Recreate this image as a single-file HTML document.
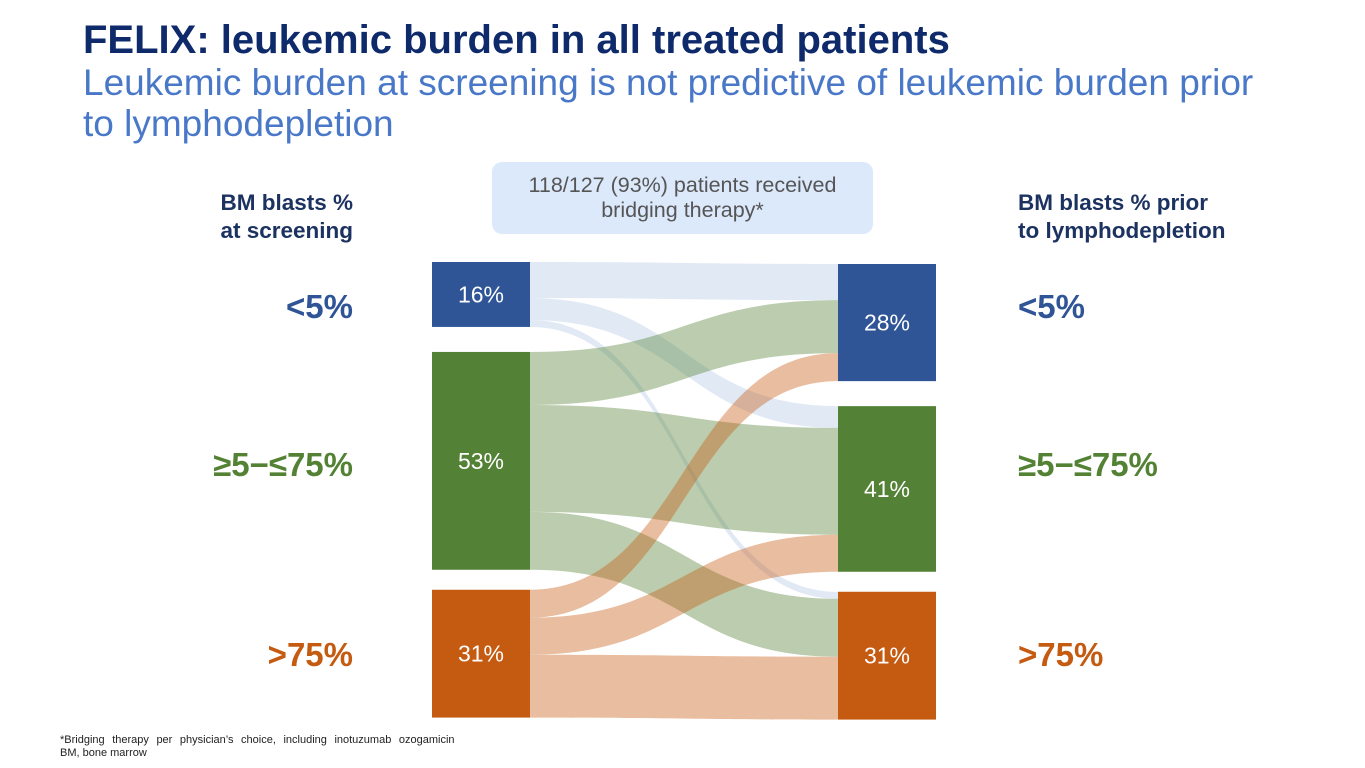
<!DOCTYPE html>
<html><head><meta charset="utf-8"><style>
body{margin:0;width:1365px;height:768px;background:#fff;font-family:"Liberation Sans",sans-serif;position:relative;overflow:hidden}
.a{position:absolute;white-space:nowrap}
</style></head><body>
<div class="a" style="left:83px;top:18px;font-size:40px;font-weight:bold;color:#0e2a6b">FELIX: leukemic burden in all treated patients</div>
<div class="a" style="left:83px;top:62px;font-size:37px;color:#4a78c8;line-height:41px;white-space:normal;width:1200px">Leukemic burden at screening is not predictive of leukemic burden prior to lymphodepletion</div>
<div class="a" style="left:492px;top:162px;width:381px;height:72px;background:#dce9fb;border-radius:10px;color:#555;font-size:21.5px;text-align:center;line-height:25px;padding-top:11px;box-sizing:border-box">118/127 (93%) patients received<br>bridging therapy*</div>
<div class="a" style="right:1012px;top:189px;font-size:22.5px;font-weight:bold;color:#1c3260;text-align:right;line-height:28px">BM blasts %<br>at screening</div>
<div class="a" style="left:1018px;top:189px;font-size:22.5px;font-weight:bold;color:#1c3260;line-height:28px">BM blasts % prior<br>to lymphodepletion</div>
<div class="a" style="right:1012px;top:288px;font-size:33px;font-weight:bold;color:#2f5597">&lt;5%</div>
<div class="a" style="right:1012px;top:446px;font-size:33px;font-weight:bold;color:#548235">≥5−≤75%</div>
<div class="a" style="right:1012px;top:636px;font-size:33px;font-weight:bold;color:#c55a11">&gt;75%</div>
<div class="a" style="left:1018px;top:288px;font-size:33px;font-weight:bold;color:#2f5597">&lt;5%</div>
<div class="a" style="left:1018px;top:446px;font-size:33px;font-weight:bold;color:#548235">≥5−≤75%</div>
<div class="a" style="left:1018px;top:636px;font-size:33px;font-weight:bold;color:#c55a11">&gt;75%</div>
<div class="a" style="left:60px;top:734px;font-size:11px;color:#222;line-height:13px;word-spacing:4.5px">*Bridging therapy per physician’s choice, including inotuzumab ozogamicin<br><span style="word-spacing:0">BM, bone marrow</span></div>
<svg id="sk" class="a" style="left:0;top:0" width="1365" height="768"></svg>
<script>
const categories=["<5%","≥5−≤75%",">75%"];
const leftLabels=["16%","53%","31%"];
const rightLabels=["28%","41%","31%"];
const fromLow=[8.8,5.3,1.7];
const fromMid=[12.9,26.0,14.1];
const fromHigh=[6.8,9.0,15.3];
const flows=[fromLow,fromMid,fromHigh];
const NS="http://www.w3.org/2000/svg";
const svg=document.getElementById('sk');
const k=4.11, gaps=[25,20], lx0=432,lx1=530,rx0=838,rx1=936;
const nodeCol=["#2f5597","#538135","#c55a11"];
const flowCol=["#b4c7e7","#548235","#c55a11"];
const flowOp=[0.4,0.4,0.4];
function tops(sums,top){const t=[];let y=top;sums.forEach((s,i)=>{t.push(y);y+=s*k+(gaps[i]||0);});return t;}
const lSum=flows.map(r=>r.reduce((a,b)=>a+b,0));
const rSum=[0,1,2].map(j=>flows.reduce((a,r)=>a+r[j],0));
const lT=tops(lSum,262), rT=tops(rSum,264);
const lOff=lT.slice(), rOff=rT.slice();
const fg=document.createElementNS(NS,'g');svg.appendChild(fg);
flows.forEach((row,i)=>row.forEach((v,j)=>{
  const h=v*k,y0=lOff[i],y1=rOff[j];lOff[i]+=h;rOff[j]+=h;
  const m=(lx1+rx0)/2;
  const p=document.createElementNS(NS,'path');
  p.setAttribute('d',`M${lx1},${y0}C${m},${y0} ${m},${y1} ${rx0},${y1}L${rx0},${y1+h}C${m},${y1+h} ${m},${y0+h} ${lx1},${y0+h}Z`);
  p.setAttribute('fill',flowCol[i]);p.setAttribute('fill-opacity',flowOp[i]);
  
  
  fg.appendChild(p);
}));
function node(x,y,h,c,lab,name){
  const r=document.createElementNS(NS,'rect');
  r.setAttribute('x',x);r.setAttribute('y',y);r.setAttribute('width',98);r.setAttribute('height',h);r.setAttribute('fill',c);
  
  
  svg.appendChild(r);
  const t=document.createElementNS(NS,'text');
  t.setAttribute('x',x+49);t.setAttribute('y',y+h/2+8);t.setAttribute('text-anchor','middle');
  t.setAttribute('fill','#fff');t.setAttribute('font-size','23');t.setAttribute('font-family','Liberation Sans, sans-serif');
  t.textContent=lab;
  
  
  svg.appendChild(t);
}
lSum.forEach((s,i)=>node(lx0,lT[i],s*k,nodeCol[i],leftLabels[i],'left-node-'+i));
rSum.forEach((s,i)=>node(rx0,rT[i],s*k,nodeCol[i],rightLabels[i],'right-node-'+i));
</script>
</body></html>
